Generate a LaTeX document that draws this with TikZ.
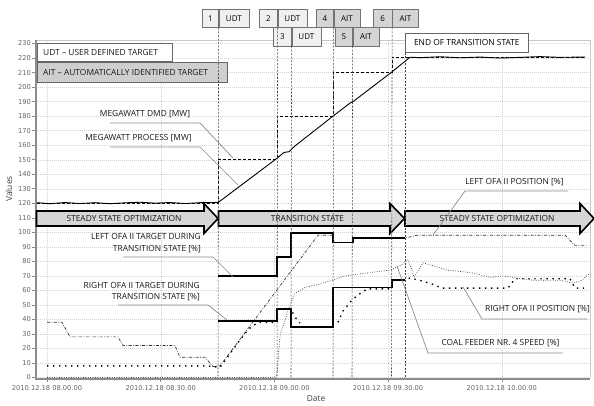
\documentclass[tikz,border=0pt]{standalone}
\usepackage{fontspec}
\setmainfont{Open Sans}
\newfontfamily\tickfont{DejaVu Sans}
\begin{document}
\begin{tikzpicture}[x=1pt,y=-1pt,
  lbl/.style={font=\fontsize{8.4}{10}\selectfont, text=black!90, inner sep=0pt},
  tick/.style={font=\tickfont\fontsize{6.7}{7}\selectfont, text=black!60, inner sep=0pt},
  leader/.style={draw=black!45, line width=0.7pt},
  evline/.style={draw=black!75, line width=0.55pt, dash pattern=on 2pt off 1.5pt},
  gridl/.style={draw=black!18, line width=0.4pt, dash pattern=on 1pt off 1pt},
  blockarrow/.style={fill=black!16, draw=black, line width=1.6pt, line join=miter},
  udtbox/.style={draw=black!55, fill=black!6, line width=0.6pt, inner sep=0pt, minimum height=18.3pt, font=\fontsize{8}{9}\selectfont, anchor=north west},
  aitbox/.style={udtbox, fill=black!17},
  process/.style={draw=black, line width=0.9pt, line join=round},
  dmd/.style={draw=black, line width=0.9pt, dash pattern=on 3pt off 2pt},
  target/.style={draw=black, line width=1.8pt, line join=miter},
  leftpos/.style={draw=black!80, line width=0.7pt, dash pattern=on 3pt off 1.5pt on 0.8pt off 1.5pt},
  rightpos/.style={draw=black, line width=1.4pt, dash pattern=on 1.4pt off 4.6pt},
  coal/.style={draw=black!75, line width=0.7pt, dash pattern=on 0.8pt off 1.6pt}]
\useasboundingbox[fill=white] (0,0) rectangle (594,405);

% grid
\foreach \v in {0,10,...,230}
  \draw[gridl] (36,{377.5-1.452*\v}) -- (590,{377.5-1.452*\v});
\foreach \gx in {47,160.7,274.4,388.1,501.8}
  \draw[gridl] (\gx,40) -- (\gx,378);
\draw[black!22, line width=0.6pt] (36,40) -- (590,40) -- (590,378);

% axes
\draw[black!45, line width=1.2pt] (36,40) -- (36,379) -- (590,379);
\foreach \v in {0,10,...,230}{
  \draw[black!45, line width=0.5pt] (32,{377.5-1.452*\v}) -- (36,{377.5-1.452*\v});
  \node[tick, anchor=east] (yt\v) at (31,{377.5-1.452*\v}) {\v};
}
\foreach \gx/\t/\n in {47/08.00.00/a,160.7/08.30.00/b,274.4/09.00.00/c,388.1/09.30.00/d,501.8/10.00.00/e}{
  \draw[black!45, line width=0.5pt] (\gx,379) -- (\gx,382);
  \node[tick] (xt\n) at (\gx,388.5) {2010.12.18 \t};
}
\node[lbl, text=black!75, font=\fontsize{8.4}{9}\selectfont] (xlab) at (316,399) {Date};
\node[lbl, text=black!75, font=\fontsize{8.4}{9}\selectfont, rotate=90] (ylab) at (9,189) {Values};

% block arrows
\draw[blockarrow] (36.5,211) -- (204,211) -- (204,203.5) -- (218,218.5) -- (204,233.5) -- (204,226) -- (36.5,226) -- cycle;
\draw[blockarrow] (218.5,211) -- (390,211) -- (390,203.5) -- (404.5,218.5) -- (390,233.5) -- (390,226) -- (218.5,226) -- cycle;
\draw[blockarrow] (405,211) -- (580,211) -- (580,203.5) -- (594,218.5) -- (580,233.5) -- (580,226) -- (405,226) -- cycle;
\node[lbl] (ss1) at (124,218.5) {STEADY STATE OPTIMIZATION};
\node[lbl] (ts) at (307.5,218.5) {TRANSITION STATE};
\node[lbl] (ss2) at (497,218.5) {STEADY STATE OPTIMIZATION};

% event lines
\coordinate (e1) at (218,378);
\coordinate (e2) at (277,378);
\coordinate (e3) at (291,378);
\coordinate (e4) at (333,378);
\coordinate (e5) at (352,378);
\coordinate (e6) at (391.5,378);
\coordinate (e7) at (405,378);

% data
\begin{scope}[yshift=-377.5pt, y=1.452pt]
% coal feeder
\draw[coal] (47,0) -- (275,0) -- (277,2) -- (280,29) -- (290,50) -- (295,58) -- (305,62) -- (318,64) -- (332,67) -- (345,70) -- (367,72) -- (390,74) -- (400,77) -- (408,81) -- (412,74) -- (414,69) -- (423,79) -- (447,74) -- (473,72) -- (490,69) -- (503,70) -- (517,68.5) -- (533,67) -- (560,67) -- (573,65) -- (582,67) -- (590,72);
% left OFA position
\draw[leftpos] (47,38) -- (62,38) -- (70,28) -- (118,28) -- (123,22) -- (175,22) -- (180,14) -- (205,14) -- (213,7.5) -- (220,8) -- (318,98) -- (333,98) -- (334,93) -- (352,93) -- (353,96) -- (405,96) -- (417,98) -- (565,98) -- (575,91) -- (587,91);
% right OFA position
\draw[rightpos] (47,8) -- (207,8) -- (220,7) -- (238,24) -- (248,33) -- (258,38) -- (277,38) -- (277,47) -- (291,47) -- (295,41.6) -- (300,37.5);
\draw[rightpos] (338,38) -- (343,45.8) -- (352,53.4) -- (358,56.8) -- (367,61) -- (392,61) -- (392,67) -- (405,67) -- (410,68.5) -- (422,66.5) -- (432,64.4) -- (442,61.6) -- (508,61.6) -- (515,68) -- (570,68) -- (575,61.6) -- (587,61.6);
% targets
\draw[target] (218,70) -- (277,70) -- (277,83) -- (291,83) -- (291,99.5) -- (333,99.5) -- (333,93) -- (353,93) -- (353,96) -- (405,96);
\draw[target] (218,39) -- (277,39) -- (277,47) -- (291,47) -- (291,35) -- (333,35) -- (333,62) -- (392,62) -- (392,67) -- (405,67);
% megawatt demand
\draw[dmd] (37,120) -- (218,120) -- (218,150) -- (277,150) -- (277,180) -- (333,180) -- (333,210) -- (392,210) -- (392,220.5) -- (585,220.5);
% megawatt process
\draw[process] (37,120.4) -- (50,119.7) -- (65,120.5) -- (80,119.8) -- (95,120.4) -- (110,119.7) -- (125,120.3) -- (140,120.7) -- (155,120.1) -- (170,120.5) -- (185,119.8) -- (200,120.4) -- (218,120.6) -- (222,122.5) -- (250,137) -- (277,151) -- (284,155) -- (289,155.5) -- (295,159.5) -- (333,180) -- (350,189) -- (354,190.5) -- (392,210.5) -- (410,220.6) -- (420,220.3) -- (440,220.9) -- (460,220.2) -- (480,220.7) -- (500,220.0) -- (520,220.5) -- (540,221.0) -- (560,220.5) -- (585,220.7);
\end{scope}

% annotation coordinates
\coordinate (pdmd) at (233,158);
\coordinate (pproc) at (238,185);
\coordinate (pltgt) at (233,277);
\coordinate (prtgt) at (227,320);
\coordinate (plpos) at (433,235);
\coordinate (prpos) at (463,287);
\coordinate (pcoal) at (397,266);

% annotations
\node[lbl] (ldmd) at (145,114) {MEGAWATT DMD [MW]};
\draw[leader] (110,123) -- (200,123) -- (pdmd);
\node[lbl] (lproc) at (138.5,138) {MEGAWATT PROCESS [MW]};
\draw[leader] (110,147) -- (200,147) -- (pproc);
\node[lbl, align=right, anchor=east, font=\fontsize{8.4}{12}\selectfont] (lltgt) at (201,243) {LEFT OFA II TARGET DURING\\TRANSITION STATE [\%]};
\draw[leader] (123,257) -- (213,257) -- (pltgt);
\node[lbl, align=right, anchor=east, font=\fontsize{8.4}{11}\selectfont] (lrtgt) at (200,292) {RIGHT OFA II TARGET DURING\\TRANSITION STATE [\%]};
\draw[leader] (118,305) -- (208,305) -- (prtgt);
\node[lbl] (llpos) at (514.5,182) {LEFT OFA II POSITION [\%]};
\draw[leader] (568,191) -- (465,191) -- (plpos);
\node[lbl] (lrpos) at (537.5,309) {RIGHT OFA II POSITION [\%]};
\draw[leader] (587,319) -- (482,319) -- (prpos);
\node[lbl] (lcoal) at (500.5,343) {COAL FEEDER NR. 4 SPEED [\%]};
\draw[leader] (563,353) -- (428,353) -- (pcoal);

% legend boxes
\node[draw=black!60, fill=white, line width=0.7pt, minimum width=135pt, minimum height=18pt, anchor=north west, inner sep=0pt] (leg1) at (37,43) {};
\node[lbl, anchor=west] (leg1t) at (43,52) {UDT -- USER DEFINED TARGET};
\node[draw=black!60, fill=black!19, line width=0.7pt, minimum width=190pt, minimum height=20pt, anchor=north west, inner sep=0pt] (leg2) at (37,62) {};
\node[lbl, anchor=west] (leg2t) at (43,72) {AIT -- AUTOMATICALLY IDENTIFIED TARGET};

% end of transition state box
\node[draw=black!60, fill=white, line width=0.7pt, minimum width=123pt, minimum height=19pt, anchor=north west, inner sep=0pt, font=\fontsize{8.4}{9}\selectfont] (eot) at (405,33) {END OF TRANSITION STATE};

% target boxes
\node[udtbox, minimum width=16pt] (b1n) at (202,9) {1};
\node[udtbox, minimum width=30pt] (b1t) at (b1n.north east) {UDT};
\node[udtbox, minimum width=18pt] (b2n) at (259,9) {2};
\node[udtbox, minimum width=29pt] (b2t) at (b2n.north east) {UDT};
\node[udtbox, minimum width=18pt] (b3n) at (273,27.3) {3};
\node[udtbox, minimum width=29pt] (b3t) at (b3n.north east) {UDT};
\node[aitbox, minimum width=17pt] (b4n) at (316,9) {4};
\node[aitbox, minimum width=26pt] (b4t) at (b4n.north east) {AIT};
\node[aitbox, minimum width=17pt] (b5n) at (335,27.3) {5};
\node[aitbox, minimum width=26pt] (b5t) at (b5n.north east) {AIT};
\node[aitbox, minimum width=18.5pt] (b6n) at (373,9) {6};
\node[aitbox, minimum width=26pt] (b6t) at (b6n.north east) {AIT};

\draw[evline] (b1n.south east) -- (e1);
\draw[evline] (b2n.south east) -- (e2);
\draw[evline] (b3n.south east) -- (e3);
\draw[evline] (b4n.south east) -- (e4);
\draw[evline] (b5n.south east) -- (e5);
\draw[evline] (b6n.south east) -- (e6);
\draw[evline] (eot.south west) -- (e7);
\end{tikzpicture}
\end{document}
